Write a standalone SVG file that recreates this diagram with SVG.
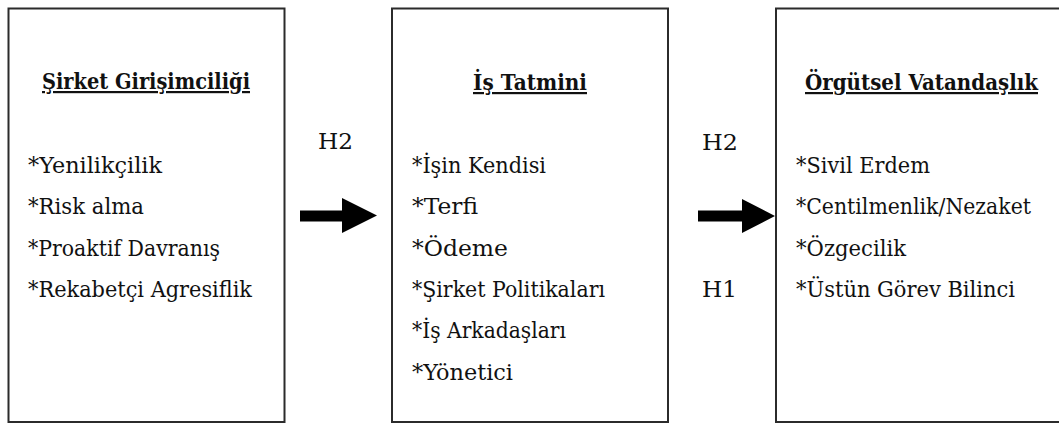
<svg xmlns="http://www.w3.org/2000/svg" width="1059" height="425" viewBox="0 0 1059 425">
  <style>
    .box { fill: #ffffff; stroke: #2b2b2b; stroke-width: 2; }
    .arrow { fill: #000; }
    .title { font-weight: bold; text-decoration: underline; }
  </style>
  <rect width="1059" height="425" fill="#ffffff"/>

  <!-- Corporate entrepreneurship -->
  <g id="node-sirket-girisimciligi" font-family="'DejaVu Serif', serif" font-size="22" fill="#111">
    <rect class="box" x="8.5" y="8.5" width="276" height="413.5"/>
    <text class="title" x="42" y="89" textLength="208" lengthAdjust="spacingAndGlyphs">Şirket Girişimciliği</text>
    <text x="28" y="173" textLength="134" lengthAdjust="spacingAndGlyphs">*Yenilikçilik</text>
    <text x="28" y="214" textLength="116" lengthAdjust="spacingAndGlyphs">*Risk alma</text>
    <text x="28" y="256" textLength="192" lengthAdjust="spacingAndGlyphs">*Proaktif Davranış</text>
    <text x="28" y="297" textLength="224" lengthAdjust="spacingAndGlyphs">*Rekabetçi Agresiflik</text>
  </g>

  <!-- Job satisfaction -->
  <g id="node-is-tatmini" font-family="'DejaVu Serif', serif" font-size="22" fill="#111">
    <rect class="box" x="392" y="8.5" width="276" height="413.5"/>
    <text class="title" x="473" y="90" textLength="114" lengthAdjust="spacingAndGlyphs">İş Tatmini</text>
    <text x="412" y="173" textLength="134" lengthAdjust="spacingAndGlyphs">*İşin Kendisi</text>
    <text x="412" y="214" textLength="66" lengthAdjust="spacingAndGlyphs">*Terfi</text>
    <text x="412" y="256" textLength="96" lengthAdjust="spacingAndGlyphs">*Ödeme</text>
    <text x="412" y="297" textLength="193" lengthAdjust="spacingAndGlyphs">*Şirket Politikaları</text>
    <text x="412" y="338" textLength="154" lengthAdjust="spacingAndGlyphs">*İş Arkadaşları</text>
    <text x="412" y="380" textLength="101" lengthAdjust="spacingAndGlyphs">*Yönetici</text>
  </g>

  <!-- Organizational citizenship -->
  <g id="node-orgutsel-vatandaslik" font-family="'DejaVu Serif', serif" font-size="22" fill="#111">
    <rect class="box" x="776" y="8.5" width="300" height="413.5"/>
    <text class="title" x="805" y="90" textLength="233" lengthAdjust="spacingAndGlyphs">Örgütsel Vatandaşlık</text>
    <text x="796" y="173" textLength="134" lengthAdjust="spacingAndGlyphs">*Sivil Erdem</text>
    <text x="796" y="214" textLength="235" lengthAdjust="spacingAndGlyphs">*Centilmenlik/Nezaket</text>
    <text x="796" y="256" textLength="110" lengthAdjust="spacingAndGlyphs">*Özgecilik</text>
    <text x="796" y="297" textLength="219" lengthAdjust="spacingAndGlyphs">*Üstün Görev Bilinci</text>
  </g>

  <!-- Block arrows with hypothesis labels -->
  <g id="connectors" font-family="'DejaVu Serif', serif" font-size="23" fill="#111">
    <polygon class="arrow" points="300,210.5 342,210.5 342,198 377,215.5 342,233 342,221.5 300,221.5"/>
    <text x="318" y="149" textLength="35" lengthAdjust="spacingAndGlyphs">H2</text>
    <polygon class="arrow" points="698,210.5 742,210.5 742,199 775,216 742,233 742,221.5 698,221.5"/>
    <text x="702" y="150" textLength="36" lengthAdjust="spacingAndGlyphs">H2</text>
    <text x="702" y="297" textLength="35" lengthAdjust="spacingAndGlyphs">H1</text>
  </g>
</svg>
